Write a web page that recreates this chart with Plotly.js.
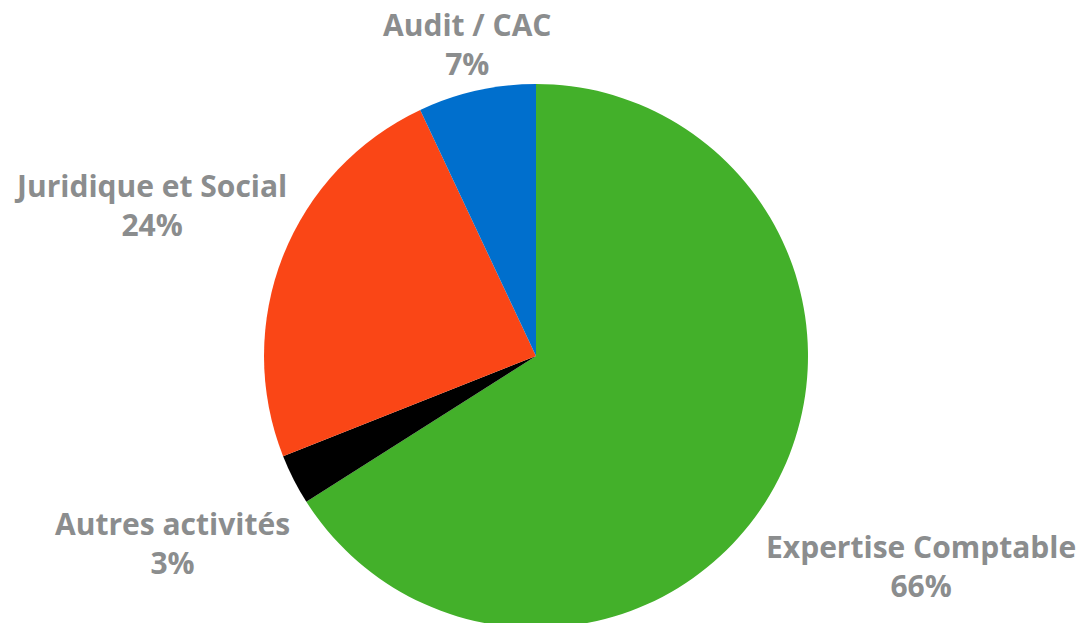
<!DOCTYPE html>
<html>
<head>
<meta charset="utf-8">
<script src="https://cdn.plot.ly/plotly-3.0.1.min.js"></script>
<style>
html,body{margin:0;padding:0;overflow:hidden;background:#fff;}
#chart{width:1083px;height:640px;}
</style>
</head>
<body>
<div id="chart"></div>
<script>
// Data
const categories = ["Expertise Comptable", "Autres activités", "Juridique et Social", "Audit / CAC"];
const shares = [66, 3, 24, 7];
const sliceColors = ["#43b02a", "#000000", "#fa4616", "#006fcd"];

// Label placement (layout only, pixels in the 1083x640 canvas)
const W = 1083, H = 640;
const labelPos = [
  [921, 566],
  [172, 543],
  [150, 205],
  [467, 44]
];

const trace = {
  type: "pie",
  labels: categories,
  values: shares,
  sort: false,
  direction: "clockwise",
  rotation: 0,
  textinfo: "none",
  hoverinfo: "label+percent",
  marker: {colors: sliceColors, line: {width: 0}},
  domain: {x: [264 / W, 808 / W], y: [(H - 628) / H, (H - 84) / H]},
  showlegend: false
};

const annotations = categories.map((c, i) => ({
  xref: "paper", yref: "paper",
  x: labelPos[i][0] / W, y: 1 - labelPos[i][1] / H,
  xanchor: "center", yanchor: "middle",
  text: c + "<br>" + shares[i] + "%",
  showarrow: false,
  align: "center",
  font: {family: "Open Sans", size: 30, color: "#8b8d8e", weight: "bold"}
}));

Plotly.newPlot("chart", [trace], {
  width: W, height: H,
  margin: {l: 0, r: 0, t: 0, b: 0},
  paper_bgcolor: "#ffffff",
  plot_bgcolor: "#ffffff",
  annotations: annotations
}, {displayModeBar: false, staticPlot: true});
</script>
</body>
</html>
